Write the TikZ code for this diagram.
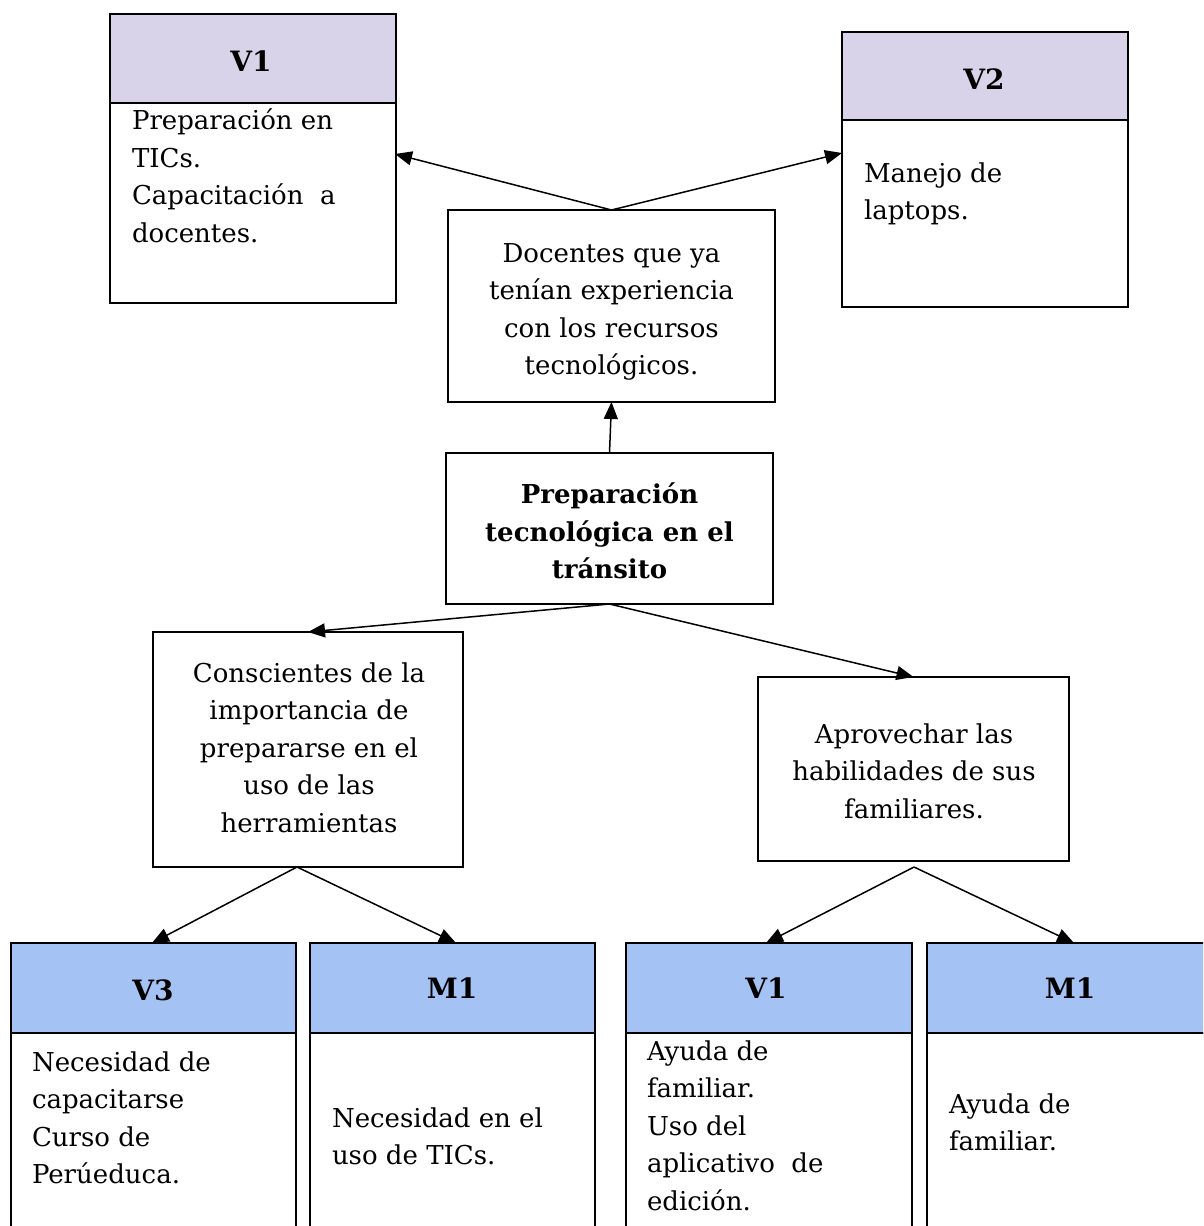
\documentclass[tikz,border=0pt]{standalone}
\usepackage{fontspec}
\setmainfont{DejaVu Serif}
\usetikzlibrary{arrows.meta}
\definecolor{lav}{HTML}{D9D3E9}
\definecolor{sky}{HTML}{A4C2F4}
\newcommand\bodyfnt{\fontsize{26}{37.5}\selectfont}
\newcommand\hdrfnt{\fontsize{28}{37.5}\selectfont\bfseries}
\tikzset{
  box/.style={draw, line width=1.6pt, inner sep=0pt, outer sep=0pt, anchor=north west},
  hdrP/.style={box, fill=lav},
  hdrB/.style={box, fill=sky},
  txt/.style={inner sep=0pt, outer sep=0pt},
  arr/.style={line width=1.5pt, -{Triangle[length=17pt,width=14pt]}},
}
\begin{document}
\begin{tikzpicture}[x=1pt,y=-1pt]
\useasboundingbox (0,0) rectangle (1203,1226);
\clip (0,0) rectangle (1203,1226);
% top boxes
\node[hdrP, minimum width=286pt, minimum height=89pt] (v1h) at (110,14) {};
\node[box, minimum width=286pt, minimum height=200pt] (v1b) at (110,103) {};
\node[hdrP, minimum width=286pt, minimum height=88pt] (v2h) at (842,32) {};
\node[box, minimum width=286pt, minimum height=187pt] (v2b) at (842,120) {};
\node[box, minimum width=327pt, minimum height=192pt] (doc) at (448,210) {};
\node[box, minimum width=327pt, minimum height=151pt] (prep) at (446,453) {};
\node[box, minimum width=310pt, minimum height=235pt] (cons) at (153,632) {};
\node[box, minimum width=311pt, minimum height=184pt] (apr) at (758,677) {};
% bottom boxes
\node[hdrB, minimum width=285pt, minimum height=90pt] (v3h) at (11,943) {};
\node[box, minimum width=285pt, minimum height=230pt] (v3b) at (11,1033) {};
\node[hdrB, minimum width=285pt, minimum height=90pt] (m1h) at (310,943) {};
\node[box, minimum width=285pt, minimum height=230pt] (m1b) at (310,1033) {};
\node[hdrB, minimum width=286pt, minimum height=90pt] (v1bh) at (626,943) {};
\node[box, minimum width=286pt, minimum height=230pt] (v1bb) at (626,1033) {};
\node[hdrB, minimum width=286pt, minimum height=90pt] (m2h) at (927,943) {};
\node[box, minimum width=286pt, minimum height=230pt] (m2b) at (927,1033) {};
% header texts
\node[txt, anchor=base] (tv1) at (251,71) {\hdrfnt V1};
\node[txt, anchor=base] (tv2) at (984,89) {\hdrfnt V2};
\node[txt, anchor=base] (tv3) at (153,1000) {\hdrfnt V3};
\node[txt, anchor=base] (tm1) at (452,998) {\hdrfnt M1};
\node[txt, anchor=base] (tv1b) at (766,998) {\hdrfnt V1};
\node[txt, anchor=base] (tm2) at (1070,998) {\hdrfnt M1};
% body texts
\node[txt, anchor=base west] (x1) at (132,129.5) {\parbox[t]{260pt}{\raggedright\bodyfnt Preparación en\\TICs.\\Capacitación~~a\\docentes.}};
\node[txt, anchor=base west] (x2) at (864,182) {\parbox[t]{260pt}{\raggedright\bodyfnt Manejo de\\laptops.}};
\node[txt, anchor=base] (x3) at (611.5,262) {\parbox[t]{320pt}{\centering\bodyfnt Docentes que ya\\tenían experiencia\\con los recursos\\tecnológicos.}};
\node[txt, anchor=base] (x4) at (609.5,503.5) {\parbox[t]{320pt}{\centering\bodyfnt\bfseries Preparación\\tecnológica en el\\tránsito}};
\node[txt, anchor=base] (x5) at (309,682) {\parbox[t]{310pt}{\centering\bodyfnt Conscientes de la\\importancia de\\prepararse en el\\uso de las\\herramientas}};
\node[txt, anchor=base] (x6) at (914,743) {\parbox[t]{310pt}{\centering\bodyfnt Aprovechar las\\habilidades de sus\\familiares.}};
\node[txt, anchor=base west] (x7) at (32,1071) {\parbox[t]{260pt}{\raggedright\bodyfnt Necesidad de\\capacitarse\\Curso de\\Perúeduca.}};
\node[txt, anchor=base west] (x8) at (332,1127) {\parbox[t]{260pt}{\raggedright\bodyfnt Necesidad en el\\uso de TICs.}};
\node[txt, anchor=base west] (x9) at (647,1060) {\parbox[t]{260pt}{\raggedright\bodyfnt Ayuda de\\familiar.\\Uso del\\aplicativo~~de\\edición.}};
\node[txt, anchor=base west] (x10) at (949,1113) {\parbox[t]{260pt}{\raggedright\bodyfnt Ayuda de\\familiar.}};
% connector points
\coordinate (e1) at (395,154);
\coordinate (e2) at (842,153);
\coordinate (s3) at (297,867);
\coordinate (s4) at (914,867);
\coordinate (e5) at (152,943);
\coordinate (e6) at (456,943);
\coordinate (e7) at (766,943);
\coordinate (e8) at (1074,943);
% connectors
\draw[arr] (doc.north) -- (e1);
\draw[arr] (doc.north) -- (e2);
\draw[arr] (prep.north) -- (doc.south);
\draw[arr] (prep.south) -- (cons.north);
\draw[arr] (prep.south) -- (apr.north);
\draw[arr] (s3) -- (e5);
\draw[arr] (s3) -- (e6);
\draw[arr] (s4) -- (e7);
\draw[arr] (s4) -- (e8);
\end{tikzpicture}
\end{document}
